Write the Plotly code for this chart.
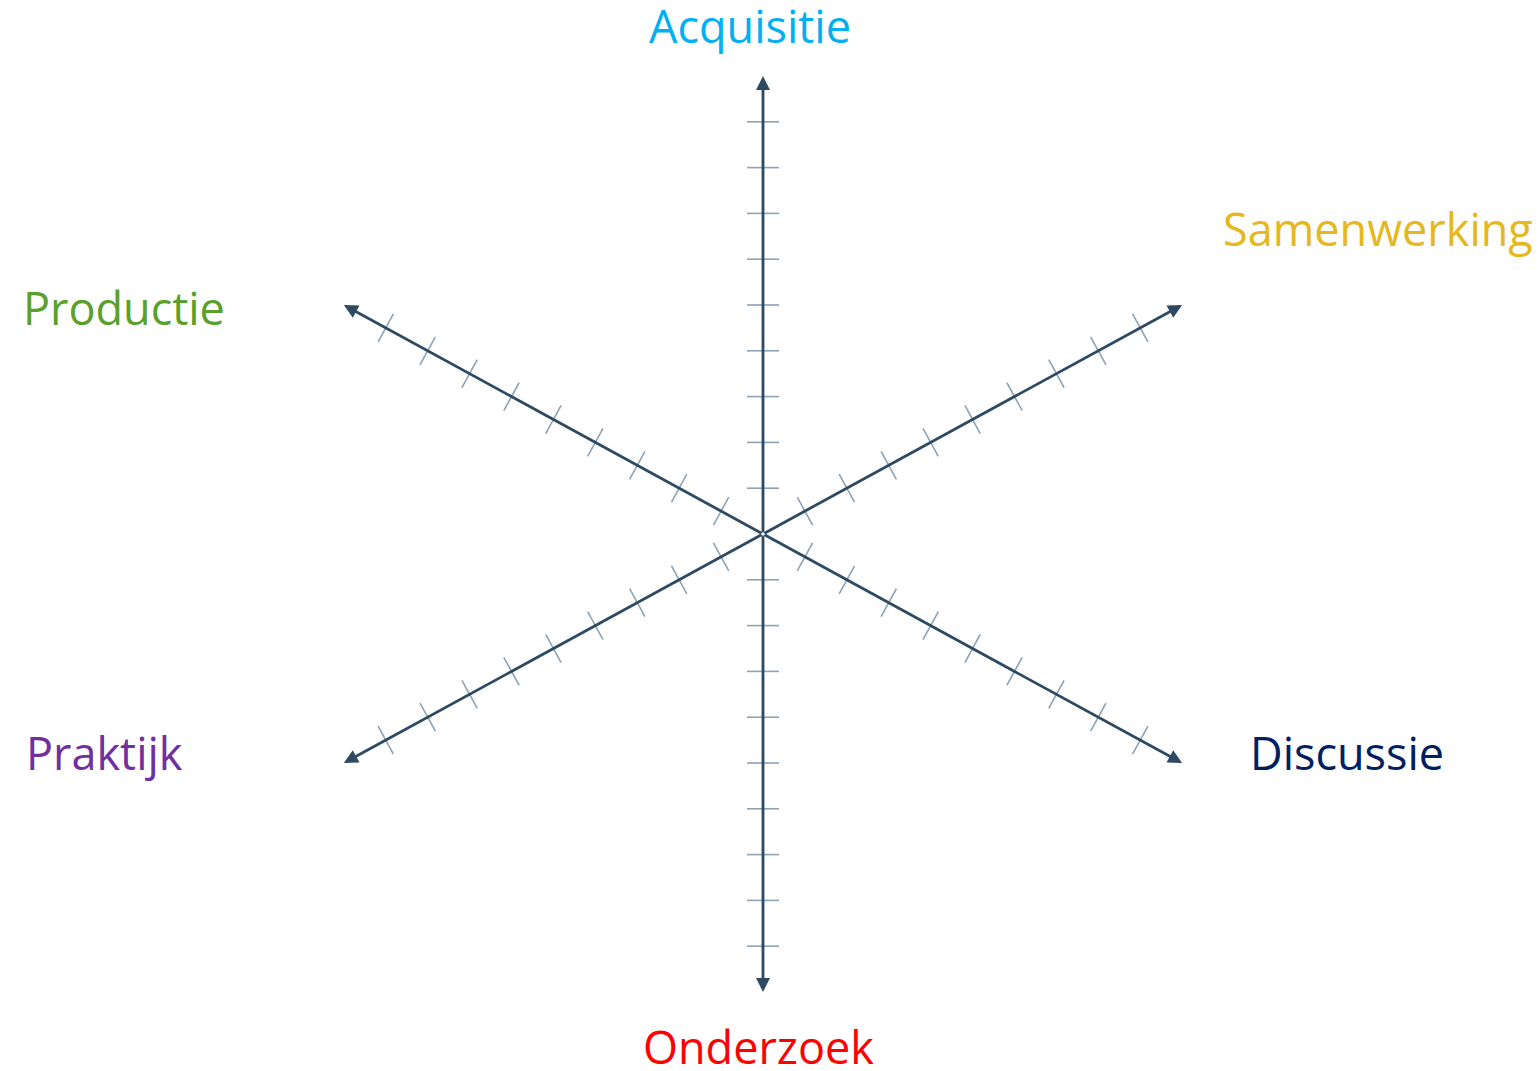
import math
import plotly.graph_objects as go

# ---- data ----
axis_names = ["Acquisitie", "Samenwerking", "Discussie", "Onderzoek", "Praktijk", "Productie"]
axis_angles = [90, 30, -30, -90, -150, 150]
axis_colors = ["#00B0F0", "#E6B820", "#002060", "#FF0000", "#7030A0", "#5AA02C"]
tick_values = [1, 2, 3, 4, 5, 6, 7, 8, 9]
axis_max = 10

# ---- styling / layout ----
W, H = 1540, 1071
cx_px, cy_px = 755, 526          # centre of the star in plot pixels
ux, uy = 48.4, 45.8              # pixels per unit on x and y
x_range = [-cx_px / ux, (W - cx_px) / ux]
y_range = [-(H - cy_px) / uy, cy_px / uy]
line_col = "#2E4A62"
tick_col = "#8CA3B6"
tick_half_px = 16

# label centres (in axis units)
dy_lab = 0.11
label_pos = {
    "Acquisitie": (-0.27, 11.0 + dy_lab),
    "Samenwerking": (12.7, 6.55 + dy_lab),
    "Discussie": (12.07, -4.89 + dy_lab),
    "Onderzoek": (-0.1, -11.3 + dy_lab),
    "Praktijk": (-13.6, -4.89 + dy_lab),
    "Productie": (-13.2, 4.83 + dy_lab),
}

fig = go.Figure()

# tick marks
tx, ty = [], []
for ang in axis_angles:
    th = math.radians(ang)
    dxp, dyp = math.cos(th) * ux, math.sin(th) * uy
    n = math.hypot(dxp, dyp)
    px, py = -dyp / n, dxp / n
    ox, oy = px * tick_half_px / ux, py * tick_half_px / uy
    for v in tick_values:
        bx, by = v * math.cos(th), v * math.sin(th)
        tx += [bx - ox, bx + ox, None]
        ty += [by - oy, by + oy, None]
fig.add_trace(go.Scatter(x=tx, y=ty, mode="lines",
                         line=dict(color=tick_col, width=1.6),
                         hoverinfo="skip", showlegend=False))

# axis lines with arrow heads
annotations = []
for ang in axis_angles:
    th = math.radians(ang)
    annotations.append(dict(
        x=axis_max * math.cos(th), y=axis_max * math.sin(th),
        ax=0, ay=0, xref="x", yref="y", axref="x", ayref="y",
        text="", showarrow=True, arrowhead=2, arrowsize=1.0,
        arrowwidth=2.8, arrowcolor=line_col, standoff=0, startstandoff=0,
    ))

# labels
for name, col in zip(axis_names, axis_colors):
    lx, ly = label_pos[name]
    annotations.append(dict(
        x=lx, y=ly, xref="x", yref="y", text=name, showarrow=False,
        xanchor="center", yanchor="middle",
        font=dict(family="Open Sans", size=45, color=col),
    ))

fig.update_layout(
    width=W, height=H,
    margin=dict(l=0, r=0, t=0, b=0),
    paper_bgcolor="white", plot_bgcolor="white",
    xaxis=dict(range=x_range, visible=False, fixedrange=True),
    yaxis=dict(range=y_range, visible=False, fixedrange=True),
    annotations=annotations,
    showlegend=False,
)

fig.write_html("out.html")
